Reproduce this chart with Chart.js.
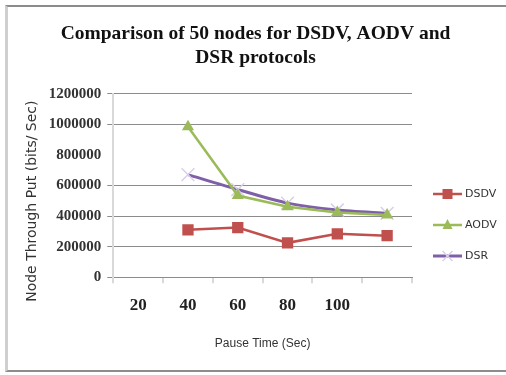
<!DOCTYPE html>
<html>
<head>
<meta charset="utf-8">
<script src="https://cdn.jsdelivr.net/npm/chart.js@4.4.1/dist/chart.umd.min.js"></script>
<style>
  html, body { margin: 0; padding: 0; background: #fff; }
  #wrap { position: relative; width: 506px; height: 375px; }
  #frame {
    position: absolute; left: 5px; top: 5px; width: 501px; height: 367px;
    border-top: 2px solid #8c8c8c; border-bottom: 2px solid #8c8c8c;
    border-left: 3px solid #cfcfcf; box-sizing: border-box; pointer-events: none;
  }
</style>
</head>
<body>
<div id="wrap">
  <canvas id="graphique" width="506" height="375"></canvas>
  <div id="frame"></div>
</div>
<script>
// Données
const pauseTimes = ['20', '40', '60', '80', '100', ''];
const dsdv = [null, 310000, 325000, 225000, 284000, 272000];
const aodv = [null, 985000, 535000, 462000, 423000, 408000];
const dsr  = [null, 672000, 574000, 485000, 440000, 418000];
const yTicks = [0, 200000, 400000, 600000, 800000, 1000000, 1200000];

const couleurs = {
    DSDV: '#C0504D',
    AODV: '#9BBB59',
    DSR: '#7F5FA8'
};

// Titre centré sur tout le cadre, pas seulement sur la zone du graphique
const titreCentrePlugin = {
    id: 'titreCentre',
    afterLayout(chart) {
        const t = chart.titleBlock;
        if (!t) return;
        t.left = 5;
        t.right = chart.width;
        t.width = t.right - t.left;
    }
};

// Légende dessinée à la main (ligne + marqueur, façon Excel)
const legendePlugin = {
    id: 'legendeExcel',
    afterDraw(chart) {
        const ctx = chart.ctx;
        const x0 = chart.chartArea.right + 21;
        const yBase = 194;
        chart.data.datasets.forEach((ds, i) => {
            const y = yBase + i * 31;
            ctx.save();
            ctx.strokeStyle = ds.borderColor;
            ctx.lineWidth = ds.borderWidth;
            ctx.beginPath();
            ctx.moveTo(x0, y);
            ctx.lineTo(x0 + 29, y);
            ctx.stroke();
            const cx = x0 + 14.5;
            ctx.fillStyle = ds.pointBackgroundColor;
            ctx.strokeStyle = ds.pointBorderColor;
            if (ds.pointStyle === 'rect') {
                ctx.fillRect(cx - 5, y - 5, 10, 10);
            } else if (ds.pointStyle === 'triangle') {
                ctx.beginPath();
                ctx.moveTo(cx, y - 6);
                ctx.lineTo(cx + 5, y + 4);
                ctx.lineTo(cx - 5, y + 4);
                ctx.closePath();
                ctx.fill();
            } else {
                ctx.lineWidth = 1.5;
                ctx.beginPath();
                ctx.moveTo(cx - 5, y - 5); ctx.lineTo(cx + 5, y + 5);
                ctx.moveTo(cx + 5, y - 5); ctx.lineTo(cx - 5, y + 5);
                ctx.stroke();
            }
            ctx.fillStyle = '#333';
            ctx.font = '11px "DejaVu Sans", sans-serif';
            ctx.textBaseline = 'middle';
            ctx.fillText(ds.label, x0 + 32, y);
            ctx.restore();
        });
    }
};

const ctx = document.getElementById('graphique').getContext('2d');
new Chart(ctx, {
    type: 'line',
    data: {
        labels: pauseTimes,
        datasets: [
            {
                label: 'DSDV',
                data: dsdv,
                borderColor: couleurs.DSDV,
                borderWidth: 2.5,
                pointStyle: 'rect',
                pointRadius: 8,
                pointBackgroundColor: couleurs.DSDV,
                pointBorderColor: couleurs.DSDV,
                pointBorderWidth: 0
            },
            {
                label: 'AODV',
                data: aodv,
                borderColor: couleurs.AODV,
                borderWidth: 2.5,
                pointStyle: 'triangle',
                pointRadius: 7,
                pointBackgroundColor: couleurs.AODV,
                pointBorderColor: couleurs.AODV,
                pointBorderWidth: 0
            },
            {
                label: 'DSR',
                data: dsr,
                borderColor: couleurs.DSR,
                borderWidth: 3,
                tension: 0.25,
                pointStyle: 'crossRot',
                pointRadius: 9,
                pointBackgroundColor: '#d8cfe8',
                pointBorderColor: '#d8cfe8',
                pointBorderWidth: 1.5
            }
        ]
    },
    options: {
        responsive: false,
        animation: false,
        layout: { padding: { top: 10, left: 20, right: 94, bottom: 24 } },
        plugins: {
            legend: { display: false },
            tooltip: { enabled: false },
            title: {
                display: true,
                text: ['Comparison of 50 nodes for DSDV, AODV and', 'DSR protocols'],
                color: '#111',
                font: { family: '"Liberation Serif", "Times New Roman", serif', size: 19.5, weight: 'bold', lineHeight: 1.23 },
                padding: { top: 12, bottom: 24 }
            }
        },
        scales: {
            x: {
                type: 'category',
                offset: true,
                grid: {
                    offset: true,
                    drawOnChartArea: false,
                    drawTicks: true,
                    tickLength: 6,
                    color: '#d9d9d9',
                    lineWidth: 2
                },
                border: { color: '#8c8c8c', width: 1 },
                ticks: {
                    color: '#222',
                    padding: 12,
                    font: { family: '"Liberation Serif", "Times New Roman", serif', size: 17, weight: 'bold' }
                },
                title: {
                    display: true,
                    text: 'Pause Time (Sec)',
                    color: '#333',
                    font: { family: '"Liberation Sans", Arial, sans-serif', size: 12 },
                    padding: { top: 9, bottom: 0 }
                }
            },
            y: {
                min: 0,
                max: 1200000,
                afterBuildTicks(axis) {
                    axis.ticks = yTicks.map(v => ({ value: v }));
                },
                grid: {
                    color: c => (c.tick && c.tick.value === 800000) ? 'rgba(0,0,0,0)' : '#8c8c8c',
                    lineWidth: 1,
                    tickLength: 6
                },
                border: { color: '#d9d9d9', width: 2 },
                ticks: {
                    color: '#333',
                    padding: 6,
                    callback: v => String(v),
                    font: { family: '"Liberation Serif", "Times New Roman", serif', size: 15, weight: 'bold' }
                },
                title: {
                    display: true,
                    // espaces en fin : le titre Excel est décalé vers le bas
                    text: 'Node Through Put (bits/ Sec)       ',
                    color: '#333',
                    font: { family: '"DejaVu Sans", sans-serif', size: 14 },
                    padding: { top: 4, bottom: 2 }
                }
            }
        }
    },
    plugins: [titreCentrePlugin, legendePlugin]
});
</script>
</body>
</html>
